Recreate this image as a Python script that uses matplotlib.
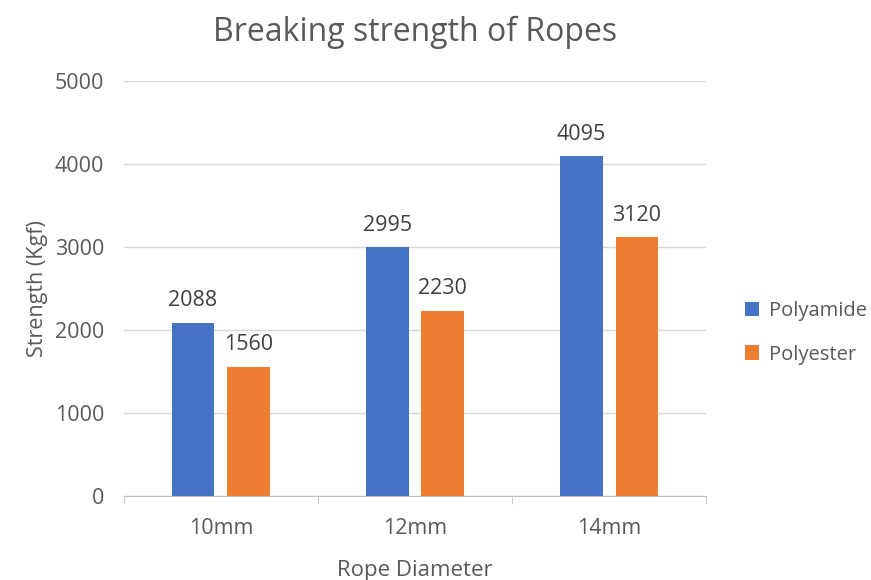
import matplotlib.pyplot as plt
import numpy as np

categories = ["10mm", "12mm", "14mm"]
polyamide = [2088, 2995, 4095]
polyester = [1560, 2230, 3120]

plt.rcParams['font.family'] = ['Open Sans', 'DejaVu Sans']
gray = '#595959'

fig = plt.figure(figsize=(8.71, 5.8), dpi=100)
ax = fig.add_axes([0.142, 0.145, 0.669, 0.715])

x = np.arange(len(categories))
w = 0.22
off = 0.143
b1 = ax.bar(x - off, polyamide, w, color='#4472C4', label='Polyamide', zorder=3)
b2 = ax.bar(x + off, polyester, w, color='#ED7D31', label='Polyester', zorder=3)

for bars in (b1, b2):
    for r in bars:
        ax.text(r.get_x() + r.get_width() / 2, r.get_height() + 140, f"{int(r.get_height())}",
                ha='center', va='bottom', fontsize=15.5, color='#404040')

ax.set_xlim(-0.5, 2.5)
ax.set_ylim(0, 5000)
ax.set_yticks(range(0, 5001, 1000))
ax.set_xticks(x)
ax.set_xticklabels(categories)
ax.set_xticks([-0.5, 0.5, 1.5, 2.5], minor=True)
ax.tick_params(axis='x', which='major', length=0, pad=16, labelsize=15.5, labelcolor=gray)
ax.tick_params(axis='x', which='minor', length=6, color='#BFBFBF')
ax.tick_params(axis='y', length=0, pad=14, labelsize=15.5, labelcolor=gray)
ax.grid(axis='y', color='#D9D9D9', linewidth=1, zorder=0)
for s in ['top', 'right', 'left']:
    ax.spines[s].set_visible(False)
ax.spines['bottom'].set_color('#BFBFBF')

ax.set_title("Breaking strength of Ropes", fontsize=23, color=gray, pad=29)
ax.set_xlabel("Rope Diameter", fontsize=16, color=gray, labelpad=15)
ax.set_ylabel("Strength (Kgf)", fontsize=15.5, color=gray, labelpad=5)

ax.legend(loc='center left', bbox_to_anchor=(1.035, 0.393), frameon=False, fontsize=14.5,
          labelcolor=gray, handlelength=0.7, handleheight=0.7, handletextpad=0.5, labelspacing=1.15)

fig.savefig("out.png", dpi=100)
